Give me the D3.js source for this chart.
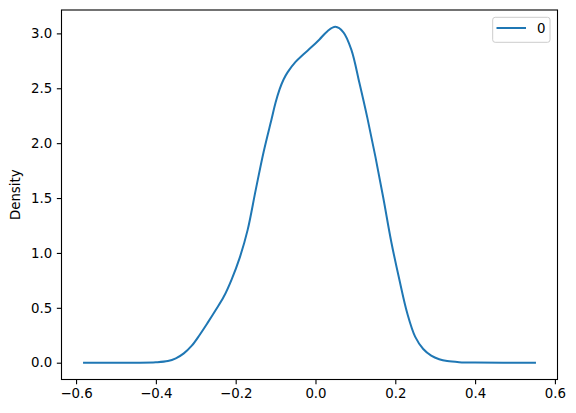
<!DOCTYPE html>
<html>
<head>
<meta charset="utf-8">
<script src="https://cdn.jsdelivr.net/npm/d3@7"></script>
<style>
	body { margin: 0; background: #fff; }
	text { font-family: 'DejaVu Sans', sans-serif; font-size: 13.33px; fill: #000; }
</style>
</head>
<body>
<div id="chart"></div>
<script>
'use strict';

// density curve
let xs = [-0.58, -0.45, -0.40, -0.37, -0.35, -0.33, -0.31, -0.29, -0.27, -0.25, -0.23, -0.21, -0.19, -0.17, -0.15, -0.13, -0.11, -0.10, -0.09, -0.08, -0.07, -0.05, -0.03, -0.01, 0.01, 0.03, 0.05, 0.07, 0.09, 0.11, 0.13, 0.15, 0.17, 0.19, 0.21, 0.23, 0.25, 0.27, 0.29, 0.31, 0.33, 0.36, 0.40, 0.55];
let ys = [0, 0, 0.004, 0.015, 0.04, 0.085, 0.155, 0.255, 0.365, 0.48, 0.60, 0.76, 0.955, 1.21, 1.57, 1.92, 2.22, 2.37, 2.49, 2.58, 2.645, 2.74, 2.81, 2.875, 2.945, 3.02, 3.06, 3.01, 2.85, 2.55, 2.23, 1.88, 1.50, 1.10, 0.76, 0.45, 0.235, 0.125, 0.065, 0.032, 0.015, 0.005, 0.001, 0];
let xticks = [-0.6, -0.4, -0.2, 0.0, 0.2, 0.4, 0.6];
let yticks = [0.0, 0.5, 1.0, 1.5, 2.0, 2.5, 3.0];
let series = '0';

let W = 576, H = 413;
let m = {l: 61.5, r: 18.5, t: 10, b: 33.5};

let svg = d3.select('#chart').append('svg')
	.attr('width', W)
	.attr('height', H)
	;

let xr = d3.extent(xs), yr = d3.extent(ys);
let xp = (xr[1] - xr[0])*0.05, yp = (yr[1] - yr[0])*0.05;
let x = d3.scaleLinear().domain([xr[0] - xp, xr[1] + xp]).range([m.l, W - m.r]);
let y = d3.scaleLinear().domain([yr[0] - yp, yr[1] + yp]).range([H - m.b, m.t]);

let fmt = d3.format('.1f');
let tl = 4.67;

svg.append('g')
	.attr('transform', 'translate(0,'+(H - m.b)+')')
	.call(d3.axisBottom(x).tickValues(xticks).tickFormat(fmt).tickSizeOuter(0).tickSize(tl).tickPadding(4.67))
	;
svg.append('g')
	.attr('transform', 'translate('+m.l+',0)')
	.call(d3.axisLeft(y).tickValues(yticks).tickFormat(fmt).tickSizeOuter(0).tickSize(tl).tickPadding(4.67))
	;
svg.selectAll('.domain').remove();
svg.selectAll('.tick line').attr('stroke', '#000').attr('stroke-width', 1.1);
svg.selectAll('.tick text').style('font-size', '13.33px').style('font-family', "'DejaVu Sans', sans-serif").attr('fill', '#000');

let line = d3.line()
	.x(function(d, i) { return x(xs[i]); })
	.y(function(d, i) { return y(ys[i]); })
	.curve(d3.curveCatmullRom.alpha(0.5))
	;
svg.append('path')
	.datum(xs)
	.attr('d', line)
	.attr('fill', 'none')
	.attr('stroke', '#1f77b4')
	.attr('stroke-width', 2)
	.attr('stroke-linecap', 'square')
	;

svg.append('rect')
	.attr('x', m.l)
	.attr('y', m.t)
	.attr('width', W - m.l - m.r)
	.attr('height', H - m.t - m.b)
	.attr('fill', 'none')
	.attr('stroke', '#000')
	.attr('stroke-width', 1.1)
	;

svg.append('text')
	.attr('transform', 'translate(20,'+((m.t + H - m.b)/2)+') rotate(-90)')
	.attr('text-anchor', 'middle')
	.text('Density')
	;

// legend
let lg = svg.append('g');
lg.append('rect')
	.attr('x', 492.7).attr('y', 17.3).attr('width', 57.3).attr('height', 25)
	.attr('rx', 2.5).attr('ry', 2.5)
	.attr('fill', '#fff').attr('fill-opacity', 0.8)
	.attr('stroke', '#ccc').attr('stroke-width', 1)
	;
lg.append('line')
	.attr('x1', 496.5).attr('x2', 526).attr('y1', 28).attr('y2', 28)
	.attr('stroke', '#1f77b4').attr('stroke-width', 2)
	;
lg.append('text')
	.attr('x', 537).attr('y', 33)
	.text(series)
	;
</script>
</body>
</html>
